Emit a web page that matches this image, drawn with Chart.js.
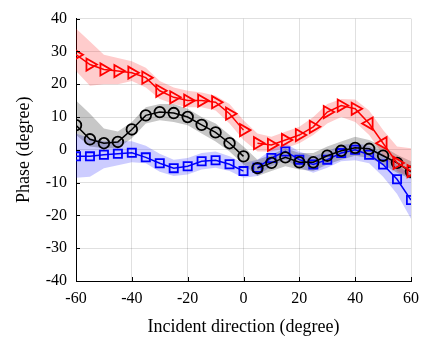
<!DOCTYPE html>
<html>
<head>
<meta charset="utf-8">
<script src="https://cdn.jsdelivr.net/npm/chart.js@4"></script>
<style>
  html, body { margin: 0; padding: 0; background: #fff; }
  #wrap { width: 440px; height: 343px; }
</style>
</head>
<body>
<div id="wrap"><canvas id="myChart" width="440" height="343"></canvas></div>
<script>
var angles = [-60, -55, -50, -45, -40, -35, -30, -25, -20, -15, -10, -5, 0, 5, 10, 15, 20, 25, 30, 35, 40, 45, 50, 55, 60];

var redPhase = [29, 26, 24.5, 24, 23.5, 22, 18, 16, 15, 15, 14.5, 11, 6, 2, 1.5, 3, 4.5, 7, 11.5, 13.5, 12.5, 8, 2, -4, -6.5];
var redUpper = [37, 33, 29, 28, 27, 25, 21, 19, 18, 17.5, 16.5, 14, 9, 5, 4, 5.5, 7, 10, 14, 15.5, 15.3, 12, 6, 1, 0.5];
var redLower = [24, 19.5, 20, 20, 21, 19, 15.5, 14, 13, 13, 12, 8, 3, -0.5, -0.5, 0.5, 2, 4.5, 8, 10, 8.5, 4.5, -1.5, -6.5, -8.5];

var blackPhase = [7.5, 3.2, 2, 2.4, 6.2, 10.5, 11.5, 11.2, 10, 7.6, 5.3, 2, -2, -5.6, -4, -2.3, -3.8, -3.8, -1.8, -0.3, 0.6, 0.3, -1.8, -4, -6.7];
var blackUpper = [15, 11, 6.5, 5.6, 8.5, 13, 14, 14, 12.5, 10, 8, 4.5, 1, -3, -1.5, 0.5, -1, -1, 1, 2.5, 4, 3, 1, -1.5, -3.5];
var blackLower = [4.5, 1, 0.5, 0.5, 3.5, 8, 9, 8.5, 7.5, 5, 2.5, -0.5, -4.5, -8, -6.5, -5, -6, -6.5, -4.5, -3, -1.8, -2.5, -4.5, -7, -9];

var bluePhase = [-2, -2, -1.5, -1.2, -0.9, -2.3, -4.1, -5.6, -5, -3.5, -3.2, -4.4, -6.5, -5.5, -2.5, -0.5, -3, -4.5, -3, -1, 0, -1.5, -4.5, -9, -15.3];
var blueUpper = [5, 3.5, 2.6, 2.6, 2.6, 1.2, -1.2, -3, -2.5, -1, -0.5, -2, -4, -3, 0, 2, -0.5, -2, -0.5, 1.5, 2, 1.2, -1.2, -4.7, -7.6];
var blueLower = [-8.5, -8.2, -5.6, -4.7, -3.8, -4.1, -6.7, -8, -7.5, -6, -5.5, -6.5, -8.5, -8, -5, -3, -5.5, -7, -5.5, -3.5, -3.2, -4.1, -8.2, -13.5, -21];

var xTicks = [-60, -40, -20, 0, 20, 40, 60];
var yTicks = [-40, -30, -20, -10, 0, 10, 20, 30, 40];

function pts(arr) {
    return arr.map(function (v, i) { return { x: angles[i], y: v }; });
}

// no connecting segment between 0 and 5 degrees
var gapIndex = angles.indexOf(0);
function lineSet(label, data, color, style, size, rot) {
    return {
        label: label,
        data: pts(data),
        borderColor: color,
        borderWidth: 1.5,
        pointStyle: style,
        pointRadius: size,
        pointRotation: rot,
        pointBorderColor: color,
        pointBackgroundColor: 'transparent',
        pointBorderWidth: 1.8,
        fill: false,
        segment: {
            borderColor: function (c) { return c.p0DataIndex === gapIndex ? 'transparent' : undefined; }
        }
    };
}
function bandSet(data, color, fill) {
    return {
        data: pts(data),
        borderWidth: 0,
        borderColor: 'transparent',
        backgroundColor: color,
        pointRadius: 0,
        fill: fill
    };
}

var redRot = angles.map(function (a) { return (a === 45 || a === 50) ? -90 : 90; });

var serif = "'Liberation Serif', 'Times New Roman', serif";

var innerTicks = {
    id: 'innerTicks',
    afterDraw: function (chart) {
        var c = chart.ctx, a = chart.chartArea;
        var xs = chart.scales.x, ys = chart.scales.y;
        c.save();
        c.strokeStyle = '#000';
        c.lineWidth = 1;
        c.beginPath();
        xTicks.forEach(function (t) {
            var px = Math.round(xs.getPixelForValue(t)) + 0.5;
            c.moveTo(px, a.bottom);
            c.lineTo(px, a.bottom - 4);
        });
        yTicks.forEach(function (t) {
            var py = Math.round(ys.getPixelForValue(t)) + 0.5;
            c.moveTo(a.left, py);
            c.lineTo(a.left + 4, py);
        });
        c.stroke();
        c.restore();
    }
};

var ctx = document.getElementById('myChart').getContext('2d');
var myChart = new Chart(ctx, {
    type: 'line',
    data: {
        datasets: [
            lineSet('Red', redPhase, '#ff0000', 'triangle', 7, redRot),
            lineSet('Black', blackPhase, '#000000', 'circle', 5.3, 0),
            lineSet('Blue', bluePhase, '#0000ff', 'rect', 5.8, 0),
            bandSet(redLower, 'transparent', false),
            bandSet(redUpper, 'rgba(255, 0, 0, 0.2)', '-1'),
            bandSet(blackLower, 'transparent', false),
            bandSet(blackUpper, 'rgba(0, 0, 0, 0.22)', '-1'),
            bandSet(blueLower, 'transparent', false),
            bandSet(blueUpper, 'rgba(0, 0, 255, 0.2)', '-1')
        ]
    },
    options: {
        responsive: false,
        animation: false,
        layout: { padding: { top: 8, right: 29, left: 13, bottom: 5 } },
        plugins: {
            legend: { display: false },
            tooltip: { enabled: false }
        },
        scales: {
            x: {
                type: 'linear',
                min: -60,
                max: 60,
                afterBuildTicks: function (s) { s.ticks = xTicks.map(function (v) { return { value: v }; }); },
                afterFit: function (s) { s.height = 57; },
                grid: { color: 'rgba(0,0,0,0.12)', drawTicks: false },
                border: { color: '#000', width: 1 },
                ticks: { color: '#000', padding: 8, font: { family: serif, size: 16 } },
                title: {
                    display: true,
                    text: 'Incident direction (degree)',
                    color: '#000',
                    padding: { top: 3, bottom: 0 },
                    font: { family: serif, size: 18 }
                }
            },
            y: {
                min: -40,
                max: 40,
                afterBuildTicks: function (s) { s.ticks = yTicks.map(function (v) { return { value: v }; }); },
                afterFit: function (s) { s.width = 63; },
                grid: { color: 'rgba(0,0,0,0.12)', drawTicks: false },
                border: { color: '#000', width: 1 },
                ticks: { color: '#000', padding: 9, font: { family: serif, size: 16 } },
                title: {
                    display: true,
                    text: 'Phase (degree)',
                    color: '#000',
                    padding: { top: 0, bottom: 4 },
                    font: { family: serif, size: 18 }
                }
            }
        }
    },
    plugins: [innerTicks]
});
</script>
</body>
</html>
